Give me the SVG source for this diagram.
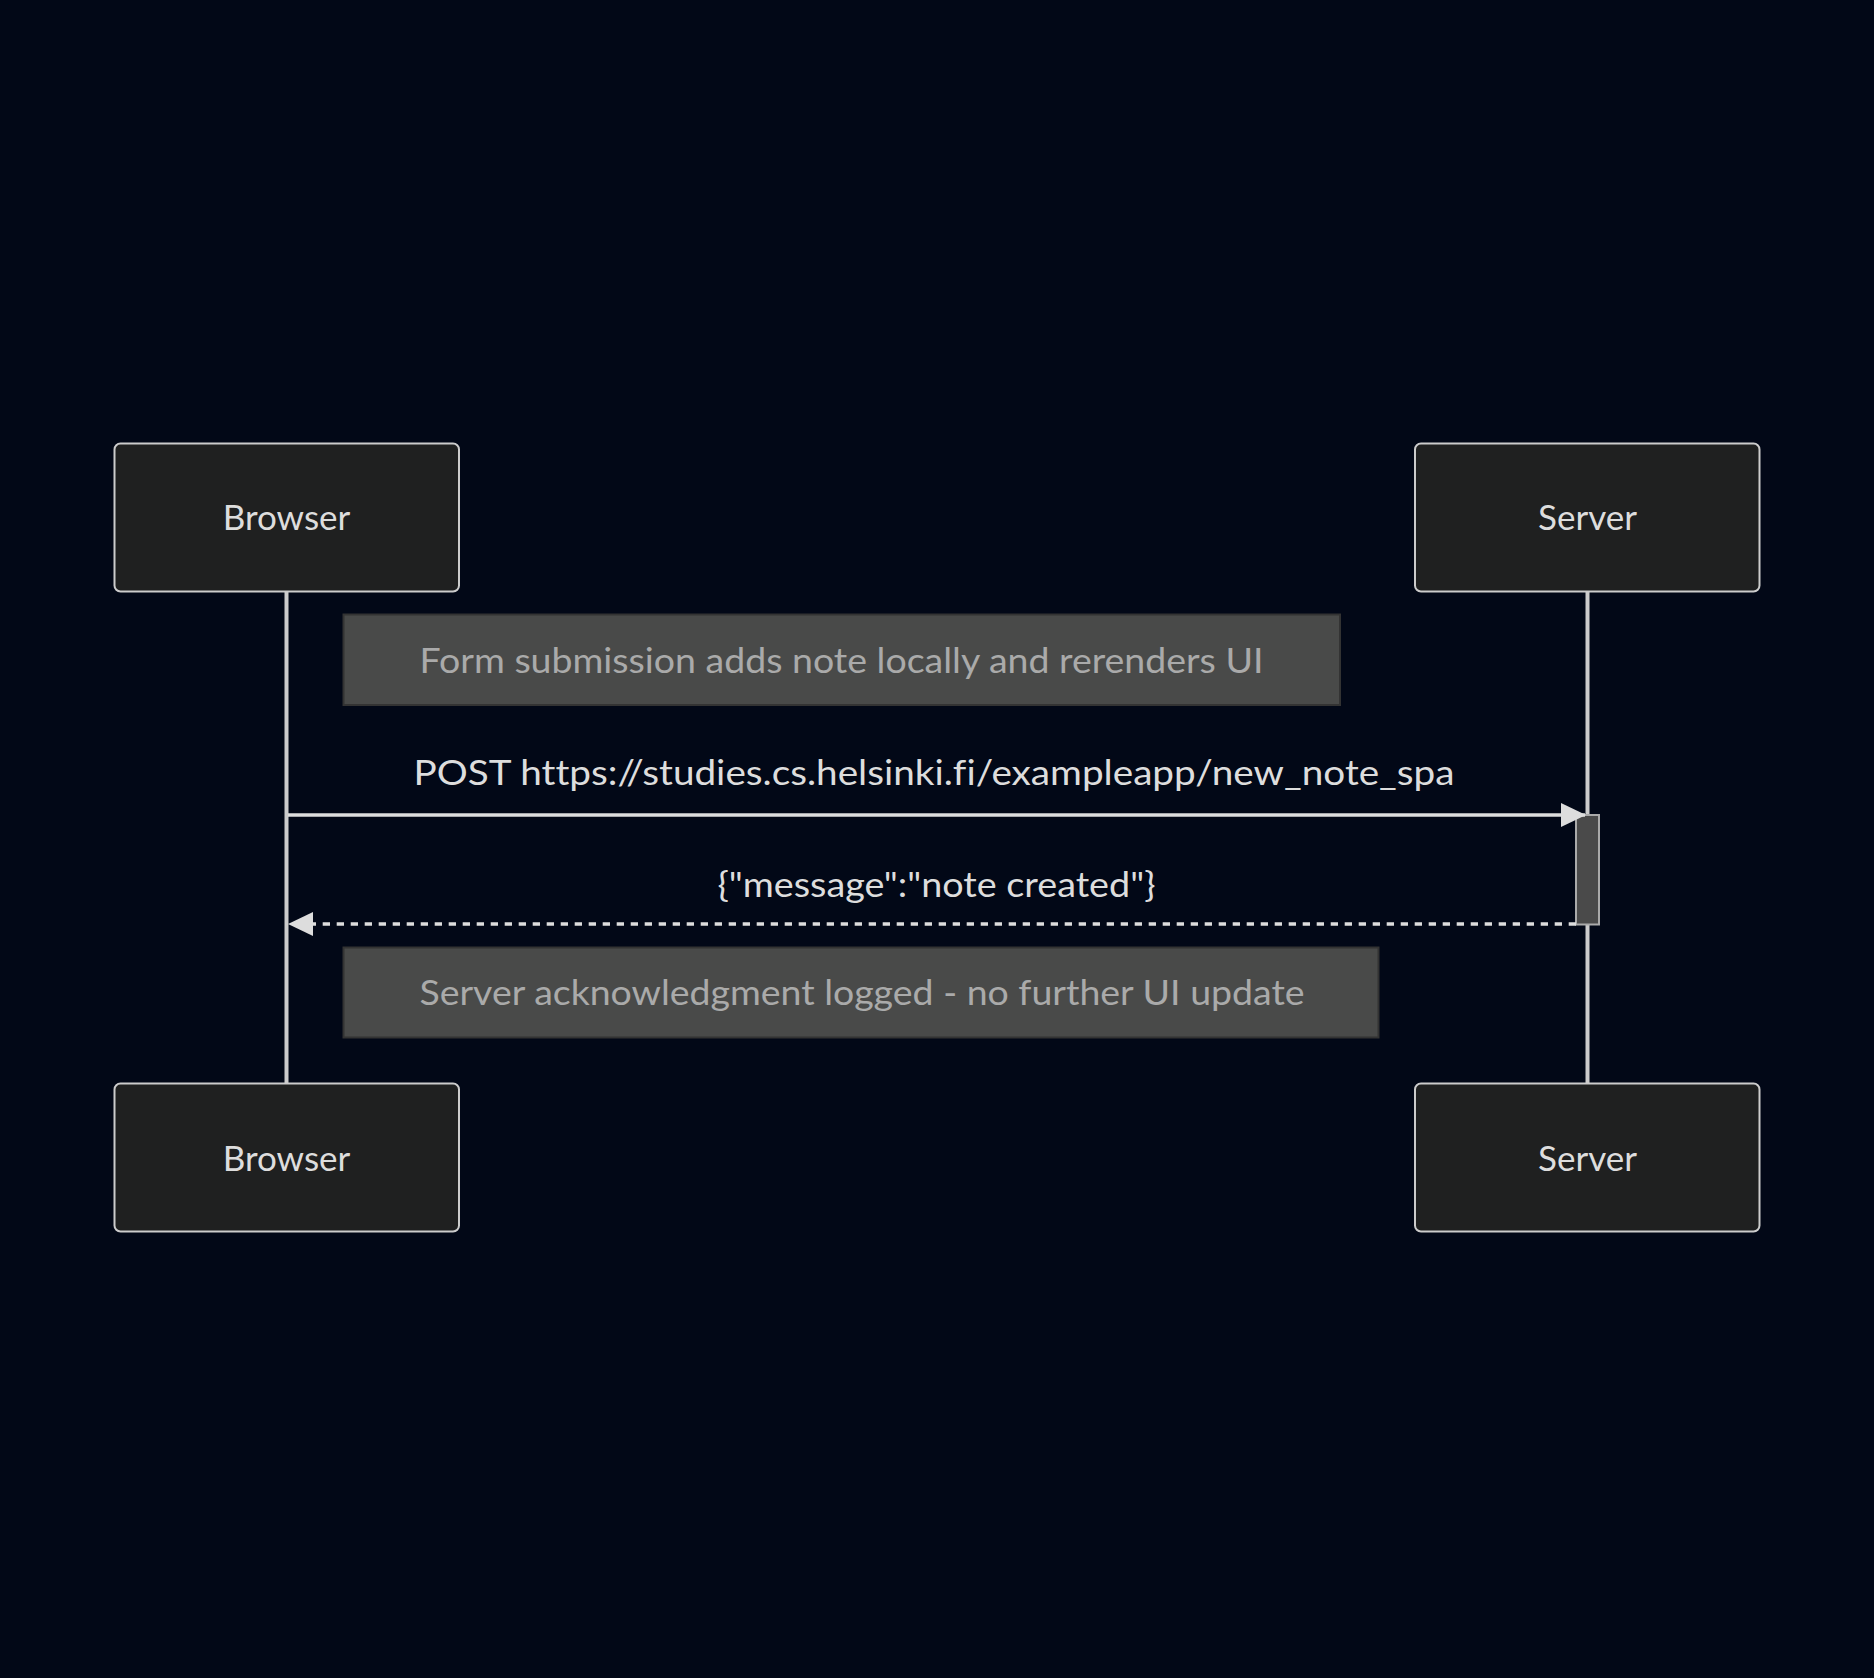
<svg xmlns="http://www.w3.org/2000/svg" width="1874" height="1678" viewBox="0 0 1874 1678">
<style>
.bg{fill:#020817}
text{font-variant-ligatures:none;font-feature-settings:"liga" 0}
.actor{fill:#1f2020;stroke:#cccccc;stroke-width:2}
.actorText{fill:#dddddd;font-family:Lato,"Open Sans","Liberation Sans",sans-serif;font-size:35px;text-anchor:middle}
.life{stroke:#cccccc;stroke-width:4;fill:none}
.msg{stroke:#dddddd;stroke-width:3.5;fill:none}
.msgText{fill:#dddddd;font-family:Lato,"Open Sans","Liberation Sans",sans-serif;font-size:35px;text-anchor:middle}
.note{fill:#494a49;stroke:#333333;stroke-width:2}
.noteText{fill:#aaaaaa;font-family:Lato,"Open Sans","Liberation Sans",sans-serif;font-size:35px;text-anchor:middle}
.act{fill:#4a4a4a;stroke:#aaaaaa;stroke-width:2}
</style>
<defs>
<marker id="arrow" viewBox="0 0 25 24" refX="24" refY="12" markerWidth="25" markerHeight="24" markerUnits="userSpaceOnUse" orient="auto">
<path d="M0,0 L25,12 L0,24 Z" fill="#dddddd"/>
</marker>
</defs>
<rect class="bg" x="0" y="0" width="1874" height="1678"/>
<g id="lifelines">
<line class="life" x1="286.5" y1="591.5" x2="286.5" y2="1083.5"/>
<line class="life" x1="1587.5" y1="591.5" x2="1587.5" y2="1083.5"/>
</g>
<g id="actor-browser-top">
<rect class="actor" x="114.5" y="443.5" width="344.5" height="148" rx="6"/>
<text class="actorText" x="286.5" y="530">Browser</text>
</g>
<g id="actor-server-top">
<rect class="actor" x="1415" y="443.5" width="344.5" height="148" rx="6"/>
<text class="actorText" x="1587.5" y="530">Server</text>
</g>
<g id="actor-browser-bottom">
<rect class="actor" x="114.5" y="1083.5" width="344.5" height="148" rx="6"/>
<text class="actorText" x="286.5" y="1170.5">Browser</text>
</g>
<g id="actor-server-bottom">
<rect class="actor" x="1415" y="1083.5" width="344.5" height="148" rx="6"/>
<text class="actorText" x="1587.5" y="1170.5">Server</text>
</g>
<g id="note-1">
<rect class="note" x="343.5" y="614.5" width="996.5" height="90.5"/>
<text class="noteText" x="841.5" y="673" textLength="844" lengthAdjust="spacingAndGlyphs">Form submission adds note locally and rerenders UI</text>
</g>
<g id="activation">
<rect class="act" x="1576" y="815" width="23" height="109.5"/>
</g>
<g id="connectors">
<line class="msg" x1="288" y1="815" x2="1585" y2="815" marker-end="url(#arrow)"/>
<text class="msgText" x="934" y="785" textLength="1041" lengthAdjust="spacingAndGlyphs">POST https://studies.cs.helsinki.fi/exampleapp/new_note_spa</text>
<line class="msg" x1="1576" y1="924" x2="289" y2="924" stroke-width="4" stroke-dasharray="7.3 6.7" marker-end="url(#arrow)"/>
<text class="msgText" x="936.5" y="896.5" textLength="438" lengthAdjust="spacingAndGlyphs">{"message":"note created"}</text>
</g>
<g id="note-2">
<rect class="note" x="343.5" y="947.5" width="1035" height="90"/>
<text class="noteText" x="862" y="1005" textLength="885" lengthAdjust="spacingAndGlyphs">Server acknowledgment logged - no further UI update</text>
</g>
</svg>
